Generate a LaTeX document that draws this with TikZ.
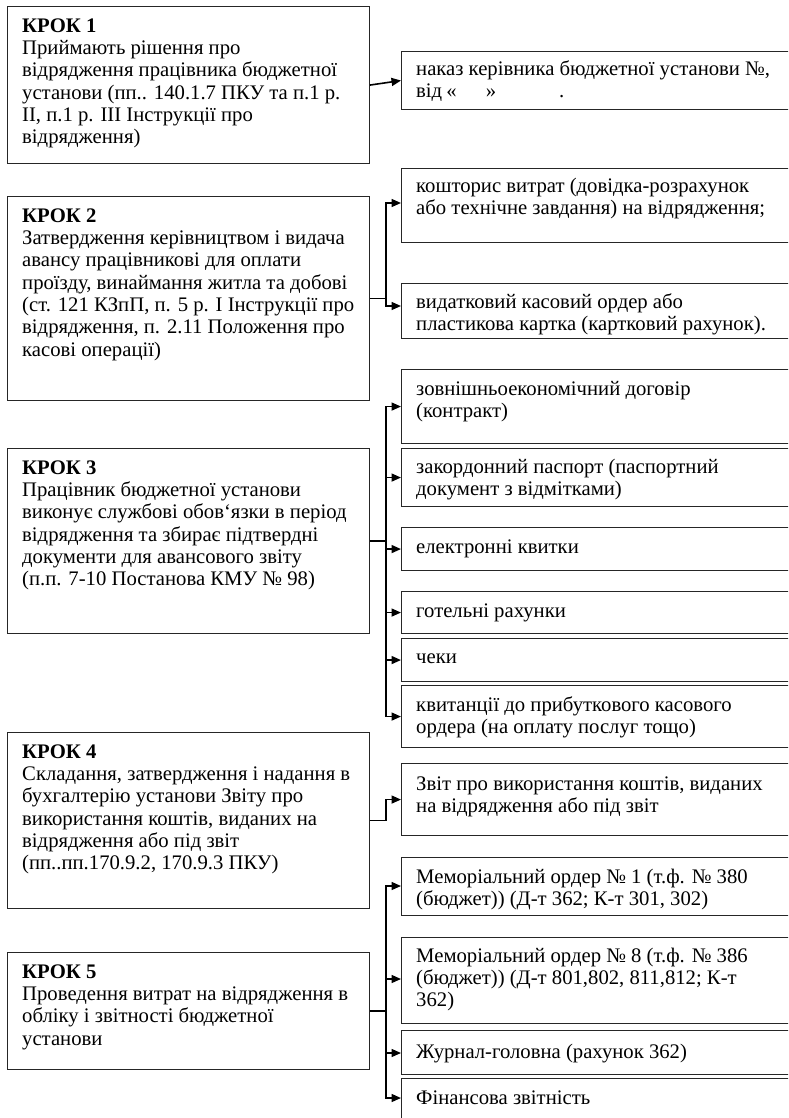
\documentclass[tikz,border=0pt]{standalone}
\usepackage{fontspec}
\setmainfont{Liberation Serif}
\usetikzlibrary{arrows.meta}
\newcommand{\fst}{\rule{0pt}{18pt}}
\tikzset{
  box/.style={draw=black!85, line width=1.1pt, anchor=north west, inner sep=0pt},
  txt/.style={anchor=north west, inner sep=0pt, align=left, font=\fontsize{20.7}{22.3}\selectfont},
  conn/.style={line width=1.6pt, -{Triangle[length=9.5pt,width=8pt]}},
}
\begin{document}
\begin{tikzpicture}[x=1pt,y=-1pt]
\useasboundingbox[fill=white] (0,0) rectangle (788,1118);
\clip (0,0) rectangle (788,1118);
% left step boxes
\node[box, minimum width=362pt, minimum height=157pt] (s1) at (7,6) {};
\node[box, minimum width=362pt, minimum height=204pt] (s2) at (7,196) {};
\node[box, minimum width=362pt, minimum height=185pt] (s3) at (7,448) {};
\node[box, minimum width=362pt, minimum height=176pt] (s4) at (7,732) {};
\node[box, minimum width=362pt, minimum height=117pt] (s5) at (7,952) {};
\node[txt] (t1) at (22,14) {\fst\textbf{КРОК 1}\\Приймають рішення про\\відрядження працівника бюджетної\\установи (пп.. 140.1.7 ПКУ та п.1 р.\\II, п.1 р. III Інструкції про\\відрядження)};
\node[txt] (t2) at (22,204) {\fst\textbf{КРОК 2}\\Затвердження керівництвом і видача\\авансу працівникові для оплати\\проїзду, винаймання житла та добові\\(ст. 121 КЗпП, п. 5 р. І Інструкції про\\відрядження, п. 2.11 Положення про\\касові операції)};
\node[txt] (t3) at (22,456) {\fst\textbf{КРОК 3}\\Працівник бюджетної установи\\виконує службові обов‘язки в період\\відрядження та збирає підтвердні\\документи для авансового звіту\\(п.п. 7-10 Постанова КМУ № 98)};
\node[txt] (t4) at (22,740) {\fst\textbf{КРОК 4}\\Складання, затвердження і надання в\\бухгалтерію установи Звіту про\\використання коштів, виданих на\\відрядження або під звіт\\(пп..пп.170.9.2, 170.9.3 ПКУ)};
\node[txt] (t5) at (22,960) {\fst\textbf{КРОК 5}\\Проведення витрат на відрядження в\\обліку і звітності бюджетної\\установи};
% right document boxes
\node[box, minimum width=420pt, minimum height=58pt] (r1) at (401,51) {};
\node[box, minimum width=420pt, minimum height=74pt] (r2) at (401,168) {};
\node[box, minimum width=420pt, minimum height=55pt] (r3) at (401,283) {};
\node[box, minimum width=420pt, minimum height=74pt] (r4) at (401,369) {};
\node[box, minimum width=420pt, minimum height=58pt] (r5) at (401,448) {};
\node[box, minimum width=420pt, minimum height=43pt] (r6) at (401,527) {};
\node[box, minimum width=420pt, minimum height=42pt] (r7) at (401,591) {};
\node[box, minimum width=420pt, minimum height=43pt] (r8) at (401,638) {};
\node[box, minimum width=420pt, minimum height=62pt] (r9) at (401,685) {};
\node[box, minimum width=420pt, minimum height=72pt] (r10) at (401,763) {};
\node[box, minimum width=420pt, minimum height=58pt] (r11) at (401,857) {};
\node[box, minimum width=420pt, minimum height=86pt] (r12) at (401,937) {};
\node[box, minimum width=420pt, minimum height=44pt] (r13) at (401,1030) {};
\node[box, minimum width=420pt, minimum height=70pt] (r14) at (401,1078) {};
\node[txt] (q1) at (416,57) {\fst наказ керівника бюджетної установи №,\\від\hspace{-1pt} «\hspace*{29pt}»\hspace*{63pt}.};
\node[txt] (q2) at (416,174) {\fst кошторис витрат (довідка-розрахунок\\або технічне завдання) на відрядження;};
\node[txt] (q3) at (416,290) {\fst видатковий касовий ордер або\\пластикова картка (картковий рахунок).};
\node[txt] (q4) at (416,377) {\fst зовнішньоекономічний договір\\(контракт)};
\node[txt] (q5) at (416,455) {\fst закордонний паспорт (паспортний\\документ з відмітками)};
\node[txt] (q6) at (416,535) {\fst електронні квитки};
\node[txt] (q7) at (416,599) {\fst готельні рахунки};
\node[txt] (q8) at (416,645) {\fst чеки};
\node[txt] (q9) at (416,693) {\fst квитанції до прибуткового касового\\ордера (на оплату послуг тощо)};
\node[txt] (q10) at (416,772) {\fst Звіт про використання коштів, виданих\\на відрядження або під звіт};
\node[txt] (q11) at (416,865) {\fst Меморіальний ордер № 1 (т.ф. № 380\\(бюджет)) (Д-т 362; К-т 301, 302)};
\node[txt] (q12) at (416,944) {\fst Меморіальний ордер № 8 (т.ф. № 386\\(бюджет)) (Д-т 801,802, 811,812; К-т\\362)};
\node[txt] (q13) at (416,1040) {\fst Журнал-головна (рахунок 362)};
\node[txt] (q14) at (416,1086) {\fst Фінансова звітність};
% connectors
\draw[conn] (s1.east) -- (r1.west);
\foreach \r/\y in {r2/203, r3/306} \draw[conn] (s2.east) -- ++(16,0) |- (\r.west |- 0,\y);
\foreach \r in {r4,r5,r6,r7,r8,r9} \draw[conn] (s3.east) -- ++(16,0) |- (\r.west);
\draw[conn] (s4.east) -- ++(16,0) |- (r10.west);
\foreach \r/\y in {r11/886, r12/979, r13/1053, r14/1098} \draw[conn] (s5.east) -- ++(16,0) |- (\r.west |- 0,\y);
\end{tikzpicture}
\end{document}
